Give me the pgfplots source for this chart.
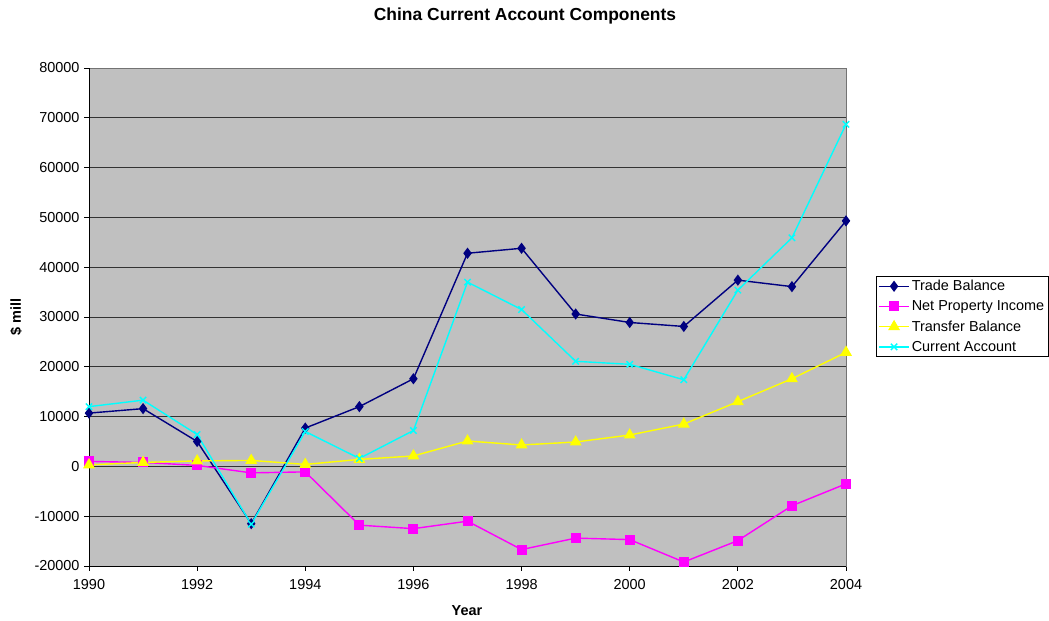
\documentclass[border=0pt]{standalone}
\usepackage{pgfplots}
\pgfplotsset{compat=1.18}
\usepackage{fontspec}
\setmainfont{Liberation Sans}
\definecolor{plotbg}{HTML}{C0C0C0}
\definecolor{tradec}{HTML}{000080}
\definecolor{propc}{HTML}{FF00FF}
\definecolor{transc}{HTML}{FFFF00}
\definecolor{currc}{HTML}{00FFFF}

\begin{document}
\begin{tikzpicture}
\path[use as bounding box] (-89bp,-55bp) rectangle (960bp,566bp);
\begin{axis}[
  at={(0,0)}, anchor=south west,
  scale only axis, width=757bp, height=498bp,
  xmin=1990, xmax=2004, ymin=-20000, ymax=80000,
  xtick={1990,1992,...,2004},
  ytick={-20000,-10000,...,80000},
  scaled y ticks=false, scaled x ticks=false,
  /pgf/number format/.cd, 1000 sep={}, assume math mode=true,
  /pgfplots/.cd,
  tick label style={font=\fontsize{14.5}{17}\selectfont},
  xticklabel style={yshift=-5bp},
  yticklabel style={xshift=-1bp},
  tick align=outside, tick style={black, line width=0.8bp},
  major tick length=5bp,
  xtick pos=bottom, ytick pos=left,
  ymajorgrids, grid style={black!80, line width=0.8bp},
  axis background/.style={fill=plotbg},
  axis line style={black!55, line width=0.8bp},
  clip=false,
  legend style={at={(1.0396,0.501)}, anchor=west, draw=black, fill=white,
    font=\fontsize{14.5}{17}\selectfont, inner sep=2bp, row sep=4.5bp,
    line width=0.8bp},
  legend cell align=left,
  legend image code/.code={\draw[#1, mark repeat=2, mark phase=2] plot coordinates {(0bp,0bp) (15bp,0bp) (30bp,0bp)};},
]
\addplot[color=tradec, line width=1.4bp, mark=diamond*, mark size=4.5bp, mark options={solid, fill=tradec}] coordinates {
(1990,10700) (1991,11600) (1992,5000) (1993,-11500) (1994,7700) (1995,12000)
(1996,17600) (1997,42800) (1998,43800) (1999,30600) (2000,28900) (2001,28100)
(2002,37400) (2003,36100) (2004,49300)};
\addlegendentry{Trade Balance}
\addplot[color=propc, line width=1.4bp, mark=square*, mark size=4.3bp, mark options={solid, fill=propc}] coordinates {
(1990,1000) (1991,800) (1992,200) (1993,-1300) (1994,-1100) (1995,-11800)
(1996,-12500) (1997,-11000) (1998,-16700) (1999,-14400) (2000,-14700) (2001,-19200)
(2002,-14900) (2003,-7900) (2004,-3500)};
\addlegendentry{Net Property Income}
\addplot[color=transc, line width=1.4bp, mark=triangle*, mark size=5.5bp, mark options={solid, fill=transc}] coordinates {
(1990,300) (1991,800) (1992,1100) (1993,1200) (1994,400) (1995,1400)
(1996,2100) (1997,5100) (1998,4300) (1999,4900) (2000,6300) (2001,8500)
(2002,13000) (2003,17600) (2004,22900)};
\addlegendentry{Transfer Balance}
\addplot[color=currc, line width=1.4bp, mark=x, mark size=4.5bp, mark options={solid, line width=1.4bp}] coordinates {
(1990,12000) (1991,13300) (1992,6400) (1993,-11600) (1994,7000) (1995,1600)
(1996,7200) (1997,37000) (1998,31500) (1999,21100) (2000,20500) (2001,17400)
(2002,35400) (2003,45900) (2004,68700)};
\addlegendentry{Current Account}
\draw[black, line width=0.8bp] (rel axis cs:0,0) -- (rel axis cs:1,0);
\draw[black, line width=0.8bp] (rel axis cs:0,0) -- (rel axis cs:0,1);
\end{axis}
\node[font=\fontsize{17.5}{20}\selectfont\bfseries] at (436bp,550bp) {China Current Account Components};
\node[font=\fontsize{14.5}{17}\selectfont\bfseries, rotate=90] at (-73bp,249bp) {\$ mill};
\node[font=\fontsize{14.5}{17}\selectfont\bfseries] at (378bp,-45bp) {Year};
\end{tikzpicture}
\end{document}
